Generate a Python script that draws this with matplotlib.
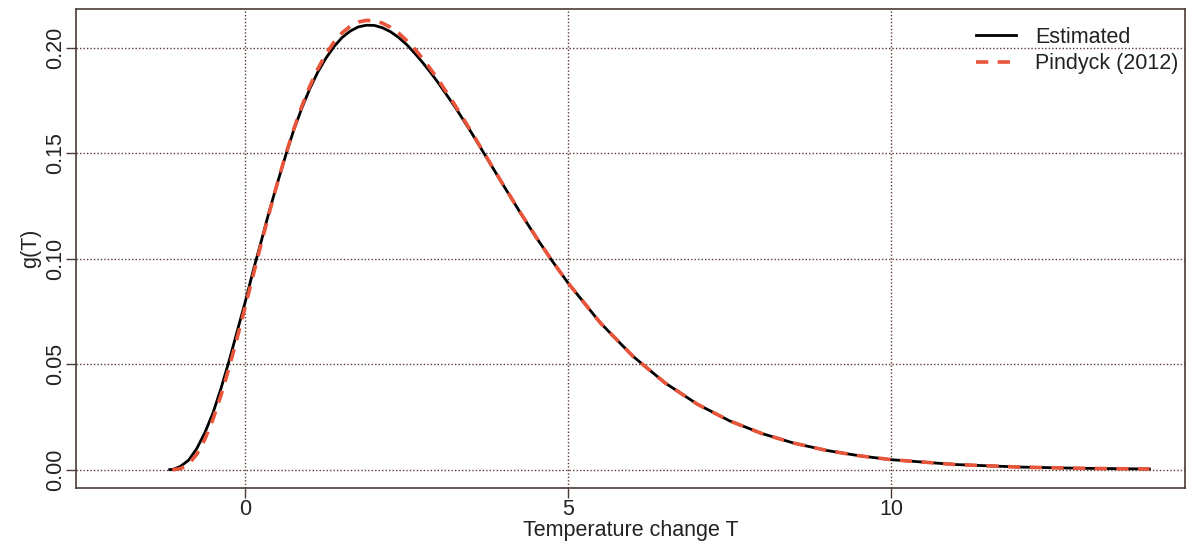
import numpy as np
import matplotlib.pyplot as plt

plt.rcParams['font.family'] = ['Liberation Sans', 'DejaVu Sans']

# temperature grid (degrees C)
temp = [-1.17, -1.13, -1.1, -1.0, -0.875, -0.75, -0.625, -0.5, -0.375,
        -0.25, -0.125, 0.0, 0.125, 0.25, 0.375, 0.5, 0.625, 0.75, 0.875,
        1.0, 1.125, 1.25, 1.375, 1.5, 1.625, 1.75, 1.875, 2.0, 2.125, 2.25,
        2.375, 2.5, 2.625, 2.75, 2.875, 3.0, 3.25, 3.5, 3.75, 4.0, 4.25,
        4.5, 4.75, 5.0, 5.5, 6.0, 6.5, 7.0, 7.5, 8.0, 8.5, 9.0, 9.5, 10.0,
        11.0, 12.0, 13.0, 14.0]

# estimated density g(T)
g_est = [0.0, 0.0001, 0.0003, 0.0016, 0.0045, 0.0100, 0.0175, 0.0268,
         0.0385, 0.0515, 0.0655, 0.0795, 0.0945, 0.1085, 0.1228, 0.1360,
         0.1488, 0.1608, 0.1712, 0.1805, 0.1885, 0.1950, 0.2005, 0.2048,
         0.2078, 0.2098, 0.2106, 0.2105, 0.2094, 0.2075, 0.2048, 0.2014,
         0.1973, 0.1928, 0.1880, 0.1828, 0.1718, 0.1598, 0.1472, 0.1346,
         0.1222, 0.1103, 0.0990, 0.0884, 0.0695, 0.0538, 0.0411, 0.0310,
         0.0231, 0.0171, 0.0125, 0.0091, 0.0066, 0.0047, 0.0024, 0.0012,
         0.0006, 0.0003]

# Pindyck (2012) density, undefined below its lower bound
g_pin = [None, 0.0, 0.00001, 0.00046, 0.00267, 0.00729, 0.01440, 0.02384,
         0.03528, 0.04830, 0.06244, 0.07726, 0.09237, 0.1074, 0.1221,
         0.1361, 0.1492, 0.1612, 0.1721, 0.1817, 0.1900, 0.1970, 0.2026,
         0.2070, 0.2101, 0.2121, 0.2129, 0.2127, 0.2116, 0.2096, 0.2069,
         0.2033, 0.1993, 0.1947, 0.1896, 0.1843, 0.1726, 0.1602, 0.1474,
         0.1347, 0.1223, 0.1104, 0.0990, 0.0884, 0.0695, 0.0538, 0.0411,
         0.0310, 0.0231, 0.01707, 0.01251, 0.00910, 0.00658, 0.00472,
         0.00240, 0.00119, 0.00058, 0.00028]

xticks = [0, 5, 10]
yticks = [0.00, 0.05, 0.10, 0.15, 0.20]

frame = '#4b3b36'
gridc = '#5a3c36'
txt = '#222222'
fs = 15.5

fig = plt.figure(figsize=(11.86, 5.44), dpi=100)
ax = fig.add_axes([0.0641, 0.103, 0.935, 0.8805])

ax.plot(temp, g_est, color='black', lw=2.0, label='Estimated', zorder=3)
tp = [t for t, v in zip(temp, g_pin) if v is not None]
vp = [v for v in g_pin if v is not None]
ax.plot(tp, vp, color='#e8553a', lw=2.6, ls=(0, (3.4, 2.6)),
        label='Pindyck (2012)', zorder=4)

ax.set_xlim(-2.62, 14.55)
ax.set_ylim(-0.0087, 0.2183)
ax.set_xticks(xticks)
ax.set_yticks(yticks)
ax.set_xticklabels([str(t) for t in xticks], fontsize=fs)
ax.set_yticklabels(['%.2f' % t for t in yticks], fontsize=fs,
                   rotation=90, va='center')

for x in xticks:
    ax.axvline(x, color=gridc, lw=1.0, ls=(0, (1, 1.5)), zorder=1)
for y in yticks:
    ax.axhline(y, color=gridc, lw=1.0, ls=(0, (1, 1.5)), zorder=1)

for s in ax.spines.values():
    s.set_color(frame)
    s.set_linewidth(1.2)
ax.tick_params(colors=frame, length=7, width=1.0, labelcolor=txt)
ax.tick_params(axis='x', pad=1)
ax.tick_params(axis='y', pad=0)

ax.set_xlabel('Temperature change T', fontsize=fs, color=txt, labelpad=0)
ax.set_ylabel('g(T)', fontsize=fs, color=txt, labelpad=3)

leg = ax.legend(loc='upper right', frameon=False, fontsize=fs,
                handlelength=1.86, handletextpad=0.9, labelspacing=0.25,
                borderaxespad=0.0, bbox_to_anchor=(1.0018, 0.981))
for t in leg.get_texts():
    t.set_color(txt)

fig.savefig('out.png', dpi=100)
